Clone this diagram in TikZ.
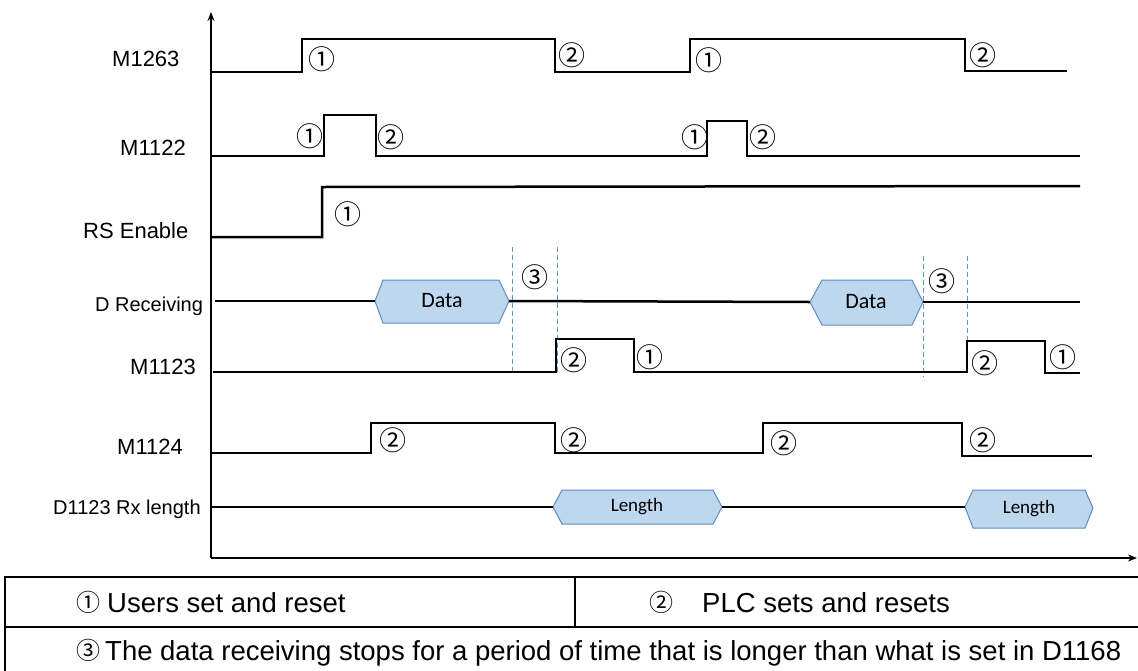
\documentclass[tikz,border=0pt]{standalone}
\usepackage{fontspec}
\setmainfont{Liberation Sans}
\newfontfamily\calibrifont{Carlito}
\newfontfamily\circfont{Noto Sans CJK SC}
\usetikzlibrary{arrows.meta}
\definecolor{hexfill}{RGB}{189,215,238}
\definecolor{hexdraw}{RGB}{95,140,190}
\definecolor{dashblue}{RGB}{91,155,213}
\tikzset{
  sig/.style={line width=2.5pt, line join=miter},
  ax/.style={line width=2pt, -{Stealth[length=9pt,width=7pt]}},
  dsh/.style={draw=dashblue, line width=1pt, dash pattern=on 5pt off 3pt},
  hexa/.style={fill=hexfill, draw=hexdraw, line width=1pt},
  lbl/.style={inner sep=0pt, anchor=base west, font=\fontsize{22}{22}\selectfont},
  slbl/.style={inner sep=0pt, anchor=base west, font=\fontsize{20}{20}\selectfont},
  cn/.style={inner sep=0pt, font=\circfont\fontsize{27}{27}\selectfont},
  tcn/.style={inner sep=0pt, font=\circfont\fontsize{24}{24}\selectfont},
  hext/.style={inner sep=0pt, font=\calibrifont\fontsize{22}{22}\selectfont},
  hexs/.style={inner sep=0pt, font=\calibrifont\fontsize{19}{19}\selectfont},
  ttxt/.style={inner sep=0pt, anchor=base west, font=\fontsize{27.5}{27.5}\selectfont},
  tbl/.style={line width=2pt}
}
\begin{document}
\begin{tikzpicture}[x=1pt,y=-1pt]
\useasboundingbox (0,0) rectangle (1138,670);
% axes
\coordinate (O) at (211,558);
\coordinate (Ytop) at (211,12);
\coordinate (Xend) at (1137,558);
\draw[ax] (O) -- (Ytop);
\draw[ax] (O) -- (Xend);

% signal labels
\node[lbl] (lM1263) at (112,66) {M1263};
\node[lbl] (lM1122) at (120,155) {M1122};
\node[lbl] (lRS) at (83,238) {RS Enable};
\node[slbl] (lDR) at (95,311) {D Receiving};
\node[lbl] (lM1123) at (130,374) {M1123};
\node[lbl] (lM1124) at (117,454) {M1124};
\node[slbl] (lD1123) at (53,514) {D1123 Rx length};

% M1263
\draw[sig] (211,72) -- (302,72) -- (302,39) -- (555,39) -- (555,72) -- (690,72) -- (690,39) -- (965,39) -- (965,71) -- (1067,71);
\node[cn] (a1) at (322,59) {①};
\node[cn] (a2) at (572,55) {②};
\node[cn] (a3) at (709,60) {①};
\node[cn] (a4) at (983,55) {②};

% M1122
\draw[sig] (211,156) -- (324,156) -- (324,115) -- (376,115) -- (376,156) -- (707,156) -- (707,121) -- (747,121) -- (747,156) -- (1080,156);
\node[cn] (b1) at (310,136) {①};
\node[cn] (b2) at (391,137) {②};
\node[cn] (b3) at (695,137) {①};
\node[cn] (b4) at (763,137) {②};

% RS Enable
\draw[sig] (211,237) -- (322,237) -- (322,187) -- (1080,186);
\node[cn] (c1) at (348,214) {①};

% D Receiving
\draw[hexa] (375,301) -- (383,280) -- (499,280) -- (509,301) -- (499,323) -- (383,323) -- cycle;
\node[hext] (data1) at (442,301) {Data};
\draw[hexa] (810,302) -- (822,280) -- (912,280) -- (923,302) -- (912,325) -- (822,325) -- cycle;
\node[hext] (data2) at (866,302) {Data};
\coordinate (dl1) at (375,301);
\coordinate (dr1) at (509,301);
\coordinate (dl2) at (810,302);
\coordinate (dr2) at (923,302);
\draw[sig] (215,301) -- (dl1);
\draw[sig] (dr1) -- (dl2);
\draw[sig] (dr2) -- (1080,302);
\node[cn] (d1) at (535,277) {③};
\node[cn] (d2) at (942,281) {③};

% dashed
\draw[dsh] (512,247) -- (512,372);
\draw[dsh] (557,247) -- (557,372);
\draw[dsh] (923,256) -- (923,377);
\draw[dsh] (967,256) -- (967,372);

% M1123
\draw[sig] (213,372) -- (556,372) -- (556,339) -- (634,339) -- (634,372) -- (967,372) -- (967,341) -- (1045,341) -- (1045,373) -- (1080,373);
\node[cn] (e1) at (574,360) {②};
\node[cn] (e2) at (650,357) {①};
\node[cn] (e3) at (985,363) {②};
\node[cn] (e4) at (1063,357) {①};

% M1124
\draw[sig] (211,453) -- (371,453) -- (371,423) -- (555,423) -- (555,453) -- (763,453) -- (763,423) -- (962,423) -- (962,456) -- (1092,456);
\node[cn] (f1) at (393,440) {②};
\node[cn] (f2) at (574,440) {②};
\node[cn] (f3) at (784,443) {②};
\node[cn] (f4) at (983,440) {②};

% D1123 Rx length
\draw[hexa] (553,507) -- (562,490) -- (713,490) -- (722,507) -- (713,524) -- (562,524) -- cycle;
\node[hexs] (len1) at (637,507) {Length};
\draw[hexa] (965,507) -- (973,490) -- (1085,490) -- (1093,508) -- (1085,528) -- (973,528) -- cycle;
\node[hexs] (len2) at (1029,509) {Length};
\coordinate (ll1) at (553,507);
\coordinate (lr1) at (722,507);
\coordinate (ll2) at (965,507);
\draw[sig] (211,507) -- (ll1);
\draw[sig] (lr1) -- (ll2);

% table
\draw[tbl] (5,680) -- (5,577) -- (1145,577);
\draw[tbl] (5,627) -- (1145,627);
\draw[tbl] (575,577) -- (575,627);
\node[tcn] (t1) at (88,602) {①};
\node[ttxt] (t1txt) at (107,612) {Users set and reset};
\node[tcn] (t2) at (661,602) {②};
\node[ttxt] (t2txt) at (702,612) {PLC sets and resets};
\node[tcn] (t3) at (88,650) {③};
\node[ttxt] (t3txt) at (105,660) {The data receiving stops for a period of time that is longer than what is set in D1168};
\end{tikzpicture}
\end{document}
